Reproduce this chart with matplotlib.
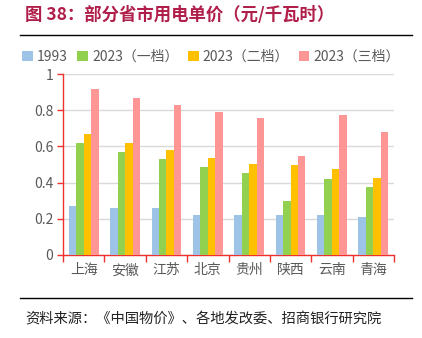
import matplotlib
matplotlib.use("Agg")
import matplotlib.pyplot as plt
import numpy as np

plt.rcParams['font.family'] = ['Noto Sans CJK SC', 'DejaVu Sans']

provinces = ["上海", "安徽", "江苏", "北京", "贵州", "陕西", "云南", "青海"]
series_names = ["1993", "2023（一档）", "2023（二档）", "2023（三档）"]
price_1993 = [0.27, 0.26, 0.26, 0.22, 0.22, 0.22, 0.22, 0.21]
price_tier1 = [0.617, 0.567, 0.528, 0.488, 0.453, 0.297, 0.42, 0.376]
price_tier2 = [0.668, 0.617, 0.578, 0.538, 0.505, 0.497, 0.475, 0.427]
price_tier3 = [0.918, 0.867, 0.828, 0.788, 0.755, 0.547, 0.775, 0.68]
yticks = [0, 0.2, 0.4, 0.6, 0.8, 1]
ytick_labels = ["0", "0.2", "0.4", "0.6", "0.8", "1"]

colors = ["#9DC3E6", "#92D050", "#FFC000", "#FF9696"]
axis_red = "#F0302F"
title_color = "#B01E4A"

fig = plt.figure(figsize=(4.22, 3.38), dpi=100)
ax = fig.add_axes([63 / 422, 1 - 255 / 338, (394 - 63) / 422, (255 - 74) / 338])

x = np.arange(len(provinces))
w = 0.18
all_series = [price_1993, price_tier1, price_tier2, price_tier3]
for i, (vals, name, c) in enumerate(zip(all_series, series_names, colors)):
    ax.bar(x + (i - 1.5) * w, vals, width=w, color=c, label=name, zorder=3)

ax.set_xlim(-0.5, len(provinces) - 0.5)
ax.set_ylim(0, 1)
ax.set_yticks(yticks)
ax.set_yticklabels(ytick_labels)
ax.grid(axis="y", color="#D9D9D9", linewidth=1.0, zorder=0)

for s in ["top", "right"]:
    ax.spines[s].set_visible(False)
for s in ["left", "bottom"]:
    ax.spines[s].set_color(axis_red)
    ax.spines[s].set_linewidth(1.0)

ax.set_xticks(x)
ax.set_xticklabels(provinces)
ax.tick_params(axis="x", length=0, labelsize=10, labelcolor="#595959", pad=6)
ax.set_xticks(np.arange(-0.5, len(provinces), 1), minor=True)
ax.tick_params(axis="x", which="minor", length=5, color=axis_red, width=1.0)
ax.tick_params(axis="y", length=4, color=axis_red, width=1.0, labelsize=10,
               labelcolor="#595959", pad=3)

fig.legend(loc="center", bbox_to_anchor=(211 / 422, 1 - 57 / 338), ncol=4,
           frameon=False, fontsize=10, handlelength=0.75, handleheight=0.75,
           handletextpad=0.3, columnspacing=0.7, labelcolor="#595959")

fig.text(25 / 422, 1 - 15 / 338, "图 38：部分省市用电单价（元/千瓦时）",
         color=title_color, fontsize=12.5, fontweight="bold", va="center", ha="left")
fig.add_artist(plt.Line2D([20 / 422, 412 / 422], [1 - 35 / 338, 1 - 35 / 338],
                          color="black", linewidth=1.0))
fig.add_artist(plt.Line2D([20 / 422, 412 / 422], [1 - 298 / 338, 1 - 298 / 338],
                          color="black", linewidth=1.0))
fig.text(25 / 422, 1 - 319 / 338, "资料来源：《中国物价》、各地发改委、招商银行研究院",
         color="#222222", fontsize=10.3, va="center", ha="left")

fig.savefig("out.png", dpi=100)
